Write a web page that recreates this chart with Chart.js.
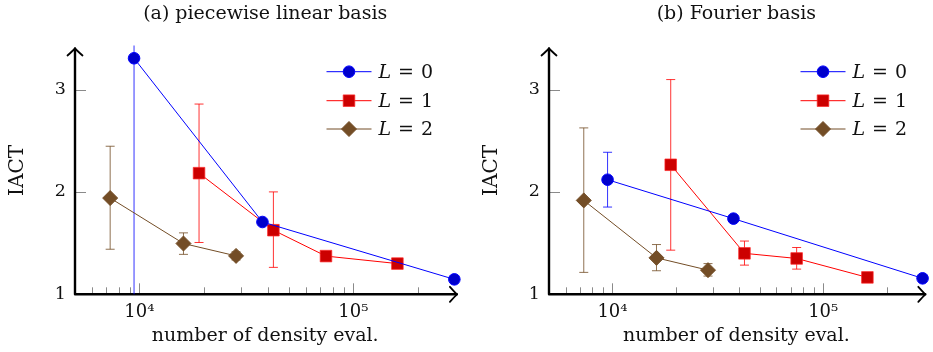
<!DOCTYPE html>
<html>
<head>
<meta charset="utf-8">
<script src="https://cdn.jsdelivr.net/npm/chart.js@4.4.1/dist/chart.umd.min.js"></script>
<style>
  html, body { margin: 0; padding: 0; background: #fff; }
  #wrap { position: relative; width: 933px; height: 352px; overflow: hidden; }
  canvas { position: absolute; top: 0; }
</style>
</head>
<body>
<div id="wrap">
  <canvas id="chartA" width="470" height="352" style="left:0"></canvas>
  <canvas id="chartB" width="459" height="352" style="left:474px"></canvas>
</div>
<script>
// tick values shared by both panels
const xTickValues = [6000, 7000, 8000, 9000, 10000, 20000, 30000, 40000, 50000, 60000, 70000, 80000, 90000, 100000, 200000];
const xMajorLabels = {10000: '10⁴', 100000: '10⁵'};
const yTickValues = [1, 2, 3];
const levels = ['0', '1', '2'];

// (a) piecewise linear basis
const linX0 = [9440, 37600, 296600];
const linY0 = [3.305, 1.706, 1.146];
const linLo0 = [0.5, null, null];
const linHi0 = [3.6, null, null];
const linX1 = [19000, 42300, 74500, 160700];
const linY1 = [2.183, 1.626, 1.373, 1.30];
const linLo1 = [1.506, 1.263, null, null];
const linHi1 = [2.858, 2.0, null, null];
const linX2 = [7300, 16070, 28300];
const linY2 = [1.94, 1.496, 1.375];
const linLo2 = [1.44, 1.39, 1.335];
const linHi2 = [2.446, 1.60, 1.415];

// (b) Fourier basis
const fouX0 = [9480, 37500, 296000];
const fouY0 = [2.119, 1.739, 1.156];
const fouLo0 = [1.852, null, null];
const fouHi0 = [2.387, null, null];
const fouX1 = [18900, 42300, 74800, 162000];
const fouY1 = [2.265, 1.40, 1.35, 1.165];
const fouLo1 = [1.431, 1.285, 1.246, null];
const fouHi1 = [3.097, 1.52, 1.457, null];
const fouX2 = [7310, 16180, 28400];
const fouY2 = [1.917, 1.356, 1.236];
const fouLo2 = [1.214, 1.23, 1.178];
const fouHi2 = [2.625, 1.486, 1.30];

const serif = "'DejaVu Serif', serif";
const styles = [
  {line: '#0000ff', fill: '#0000cc', border: '#0000ff', err: 'rgba(0,0,255,0.8)', pointStyle: 'circle', radius: 5.8},
  {line: '#ff0000', fill: '#cc0000', border: 'rgba(255,40,40,0.7)', err: 'rgba(255,0,0,0.8)', pointStyle: 'rect', radius: 8.2},
  {line: '#734d26', fill: '#734d26', border: '#734d26', err: 'rgba(115,77,38,0.8)', pointStyle: 'rectRot', radius: 7.5}
];

function points(xs, ys, lo, hi) {
  return xs.map((x, i) => ({x: x, y: ys[i], lo: lo[i], hi: hi[i]}));
}

function makeDataset(i, data) {
  const s = styles[i];
  return {
    label: 'L = ' + levels[i],
    data: data,
    borderColor: s.line,
    borderWidth: 1,
    backgroundColor: s.fill,
    pointBackgroundColor: s.fill,
    pointBorderColor: s.border,
    pointBorderWidth: 1,
    pointStyle: s.pointStyle,
    pointRadius: s.radius,
    pointHoverRadius: s.radius,
    errColor: s.err,
    clip: false,
    tension: 0
  };
}

// axes with arrows, inward ticks, error bars
const axesPlugin = {
  id: 'axesPlugin',
  beforeDatasetsDraw(chart) {
    const {ctx, chartArea: a, scales: {x, y}} = chart;
    ctx.save();
    // tick marks
    ctx.strokeStyle = '#8a8a8a';
    ctx.lineWidth = 1;
    ctx.beginPath();
    xTickValues.forEach(v => {
      const px = Math.round(x.getPixelForValue(v)) + 0.5;
      const len = xMajorLabels[v] ? 11 : 7;
      ctx.moveTo(px, a.bottom);
      ctx.lineTo(px, a.bottom - len);
    });
    yTickValues.forEach(v => {
      const py = Math.round(y.getPixelForValue(v)) + 0.5;
      ctx.moveTo(a.left, py);
      ctx.lineTo(a.left + 11, py);
    });
    ctx.stroke();

    // axis lines
    const tipX = a.right + 1.5;
    const tipY = a.top + 2;
    ctx.strokeStyle = '#000';
    ctx.lineWidth = 2.4;
    ctx.lineCap = 'round';
    ctx.lineJoin = 'round';
    ctx.beginPath();
    ctx.moveTo(a.left, a.bottom);
    ctx.lineTo(tipX, a.bottom);
    ctx.moveTo(a.left, a.bottom);
    ctx.lineTo(a.left, tipY);
    ctx.stroke();
    ctx.lineWidth = 1.8;
    ctx.beginPath();
    ctx.moveTo(tipX - 7, a.bottom - 7.5);
    ctx.quadraticCurveTo(tipX - 2, a.bottom - 2, tipX, a.bottom);
    ctx.quadraticCurveTo(tipX - 2, a.bottom + 2, tipX - 7, a.bottom + 7.5);
    ctx.moveTo(a.left - 7.5, tipY + 7);
    ctx.quadraticCurveTo(a.left - 2, tipY + 2, a.left, tipY);
    ctx.quadraticCurveTo(a.left + 2, tipY + 2, a.left + 7.5, tipY + 7);
    ctx.stroke();

    // error bars
    ctx.beginPath();
    ctx.rect(a.left, a.top - 1, a.right - a.left + 10, a.bottom - a.top + 1);
    ctx.clip();
    ctx.lineWidth = 1;
    ctx.lineCap = 'butt';
    chart.data.datasets.forEach(ds => {
      ctx.strokeStyle = ds.errColor;
      ds.data.forEach(p => {
        if (p.lo == null) return;
        const px = x.getPixelForValue(p.x);
        const top = y.getPixelForValue(p.hi);
        const bot = y.getPixelForValue(p.lo);
        ctx.beginPath();
        ctx.moveTo(px, top);
        ctx.lineTo(px, bot);
        ctx.moveTo(px - 4.5, top);
        ctx.lineTo(px + 4.5, top);
        ctx.moveTo(px - 4.5, bot);
        ctx.lineTo(px + 4.5, bot);
        ctx.stroke();
      });
    });
    ctx.restore();
  },
  afterDraw(chart) {
    const {ctx, chartArea: a} = chart;
    const opts = chart.options.plugins.axesPlugin;
    ctx.save();
    ctx.fillStyle = '#111';
    ctx.font = '19px ' + serif;
    ctx.textAlign = 'center';
    ctx.textBaseline = 'middle';
    ctx.fillText(opts.title, (a.left + a.right) / 2, 14);

    // legend
    const lx = a.left + 251.5;
    const rows = [71.7, 100.7, 129];
    chart.data.datasets.forEach((ds, i) => {
      const yy = rows[i];
      const s = styles[i];
      ctx.strokeStyle = s.line;
      ctx.lineWidth = 1;
      ctx.beginPath();
      ctx.moveTo(lx, yy);
      ctx.lineTo(lx + 45, yy);
      ctx.stroke();
      ctx.fillStyle = s.fill;
      ctx.strokeStyle = s.border;
      Chart.helpers.drawPoint(ctx, {pointStyle: s.pointStyle, radius: s.radius, rotation: 0, borderWidth: 1}, lx + 22.5, yy);
      ctx.fillStyle = '#111';
      ctx.textAlign = 'left';
      ctx.font = 'italic 19px ' + serif;
      let tx = lx + 52;
      ctx.fillText('L', tx, yy + 1);
      tx += ctx.measureText('L').width + 7;
      ctx.font = '19px ' + serif;
      ctx.fillText('=', tx, yy + 1);
      tx += ctx.measureText('=').width + 7;
      ctx.fillText(levels[i], tx, yy + 1);
    });
    ctx.restore();
  }
};

function makeChart(id, title, sets, padRight) {
  return new Chart(document.getElementById(id), {
    type: 'line',
    data: {datasets: sets},
    options: {
      responsive: false,
      animation: false,
      devicePixelRatio: 1,
      layout: {padding: {top: 46.5, right: padRight, left: 0, bottom: 0}},
      plugins: {
        legend: {display: false},
        tooltip: {enabled: false},
        axesPlugin: {title: title}
      },
      scales: {
        x: {
          type: 'logarithmic',
          min: 5000,
          max: 300000,
          bounds: 'data',
          grid: {display: false, drawTicks: false},
          border: {display: false},
          afterBuildTicks: s => { s.ticks = xTickValues.map(v => ({value: v})); },
          afterFit: s => { s.height = 57.7; },
          ticks: {
            autoSkip: false,
            maxRotation: 0,
            padding: 7,
            color: '#111',
            font: {family: serif, size: 18},
            callback: v => xMajorLabels[v] || ''
          },
          title: {
            display: true,
            text: 'number of density eval.',
            color: '#111',
            font: {family: serif, size: 19},
            padding: {top: 0, bottom: 5}
          }
        },
        y: {
          type: 'linear',
          min: 1,
          max: 3.42,
          bounds: 'data',
          grid: {display: false, drawTicks: false},
          border: {display: false},
          afterBuildTicks: s => { s.ticks = yTickValues.map(v => ({value: v})); },
          afterFit: s => { s.width = 75; },
          ticks: {
            padding: 9,
            color: '#111',
            font: {family: serif, size: 17.5}
          },
          title: {
            display: true,
            text: 'IACT',
            color: '#111',
            font: {family: serif, size: 20},
            padding: {top: 6, bottom: 0}
          }
        }
      }
    },
    plugins: [axesPlugin]
  });
}

makeChart('chartA', '(a) piecewise linear basis', [
  makeDataset(0, points(linX0, linY0, linLo0, linHi0)),
  makeDataset(1, points(linX1, linY1, linLo1, linHi1)),
  makeDataset(2, points(linX2, linY2, linLo2, linHi2))
], 14.6);

makeChart('chartB', '(b) Fourier basis', [
  makeDataset(0, points(fouX0, fouY0, fouLo0, fouHi0)),
  makeDataset(1, points(fouX1, fouY1, fouLo1, fouHi1)),
  makeDataset(2, points(fouX2, fouY2, fouLo2, fouHi2))
], 3.6);
</script>
</body>
</html>
